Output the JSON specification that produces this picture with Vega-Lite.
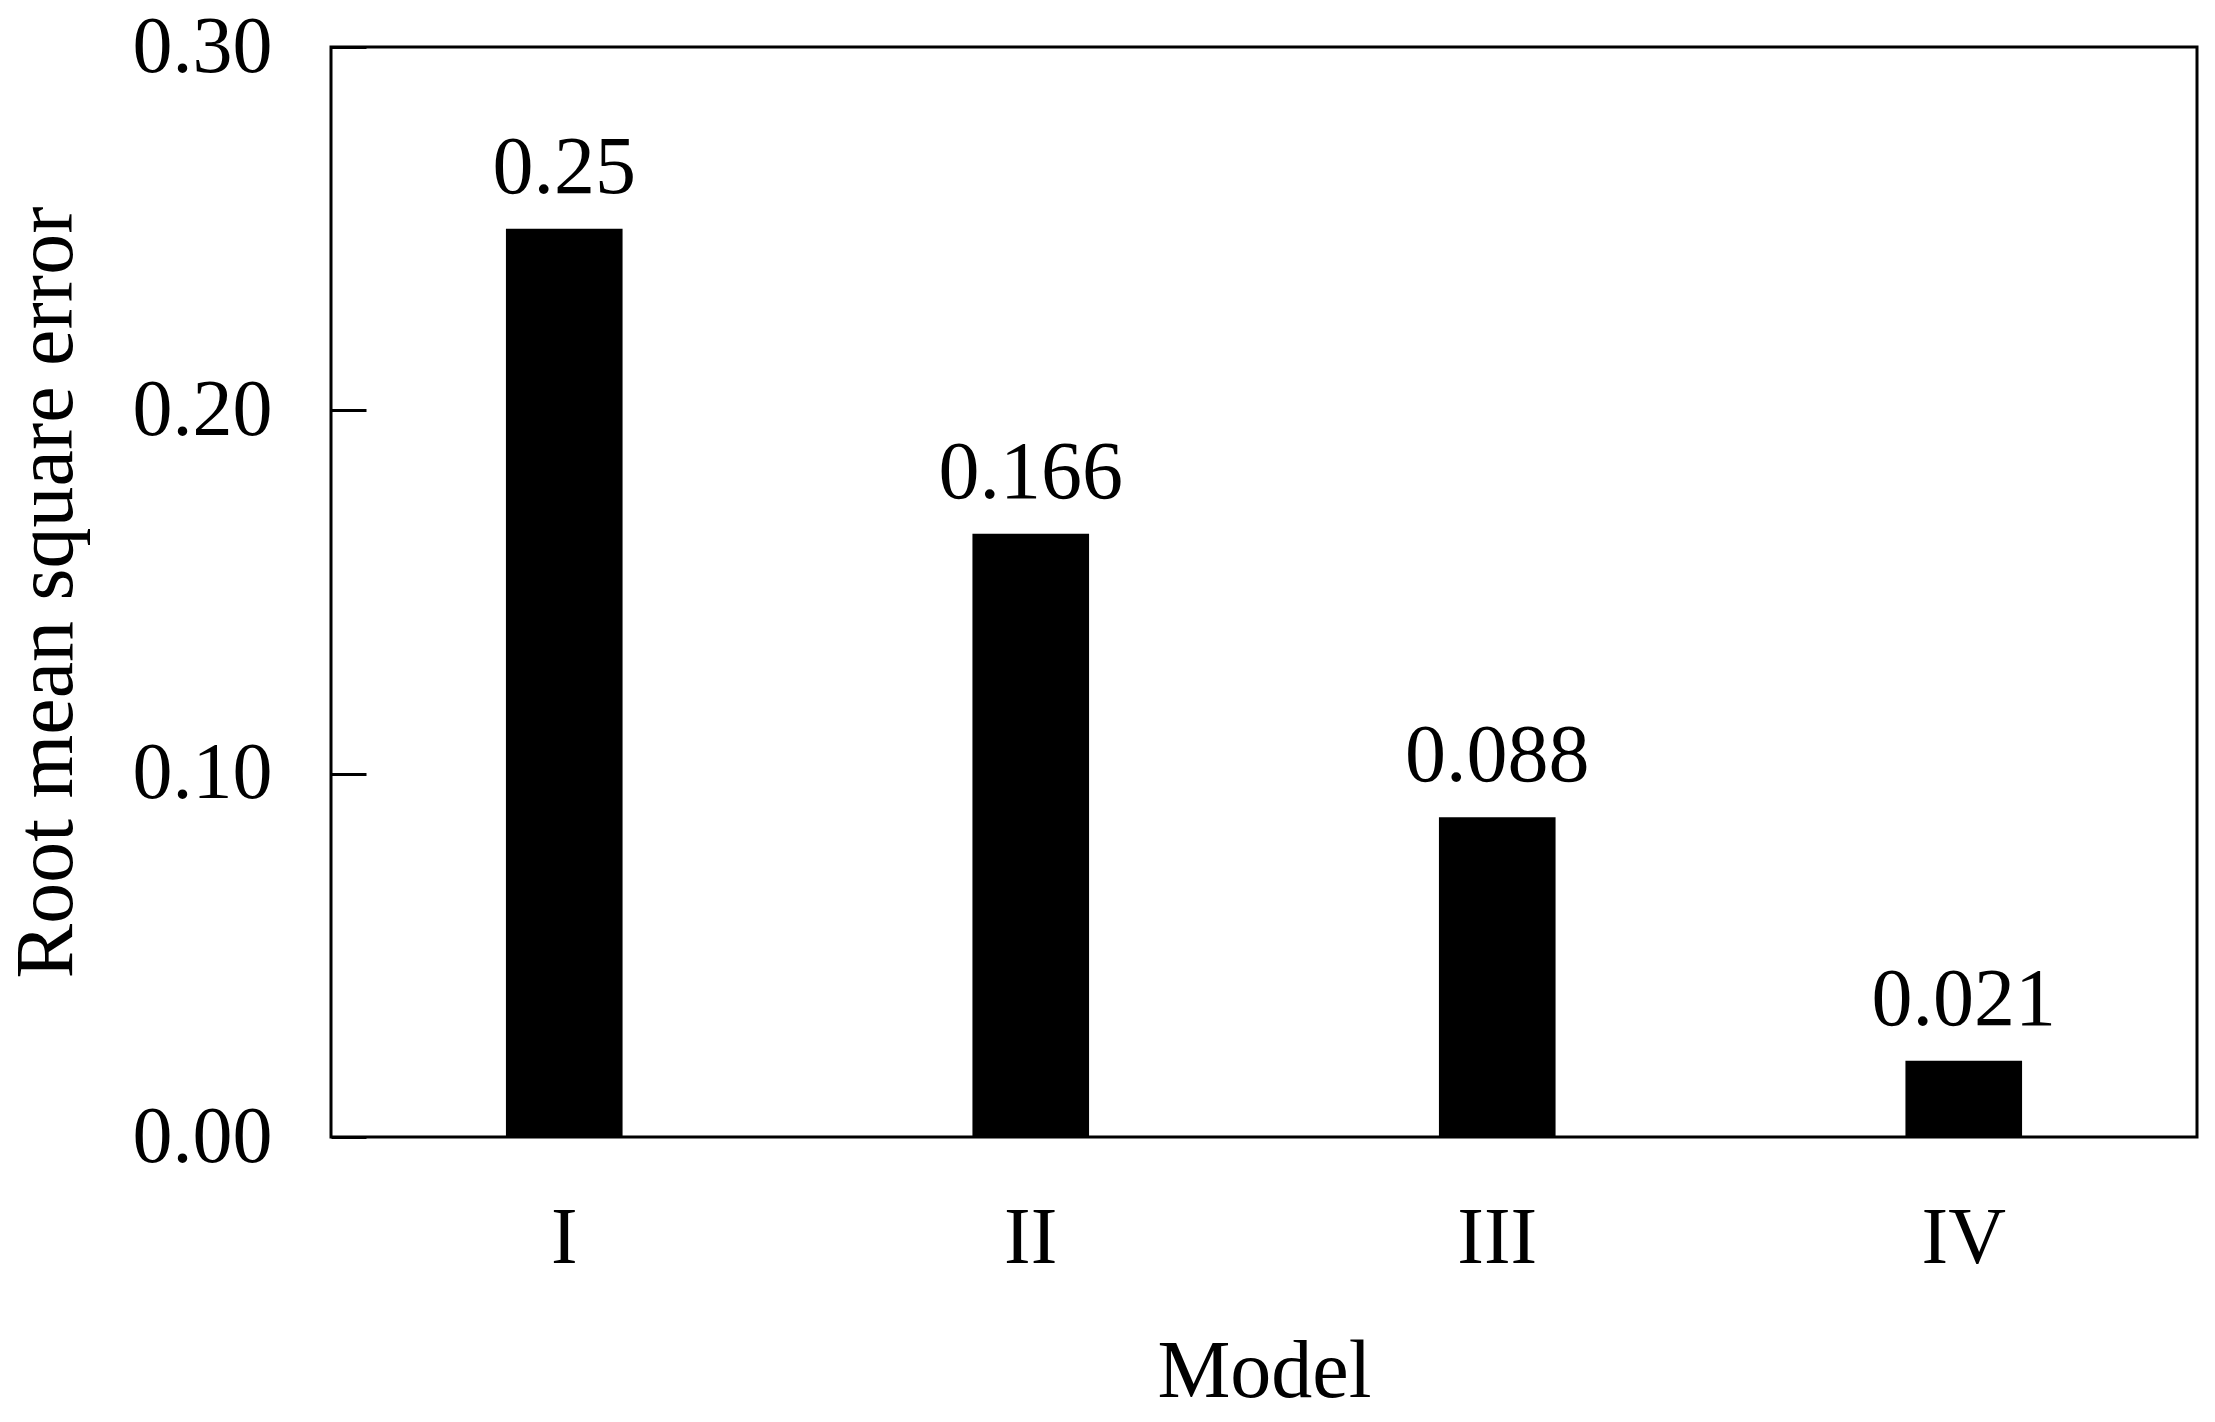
{
  "$schema": "https://vega.github.io/schema/vega-lite/v6.json",
  "width": 1866,
  "height": 1090,
  "autosize": {"type": "none"},
  "padding": {"left": 331, "top": 47, "right": 18, "bottom": 285},
  "background": "white",
  "config": {
    "font": "Liberation Serif",
    "view": {"stroke": "black", "strokeWidth": 3},
    "axis": {"labelFont": "Liberation Serif", "titleFont": "Liberation Serif", "labelColor": "black", "titleColor": "black", "titleFontWeight": "normal", "grid": false, "domain": false}
  },
  "data": {
    "values": [
      {"model": "I", "rmse": 0.25, "label": "0.25"},
      {"model": "II", "rmse": 0.166, "label": "0.166"},
      {"model": "III", "rmse": 0.088, "label": "0.088"},
      {"model": "IV", "rmse": 0.021, "label": "0.021"}
    ]
  },
  "encoding": {
    "x": {
      "field": "model", "type": "nominal", "sort": ["I", "II", "III", "IV"],
      "scale": {"paddingInner": 0.75, "paddingOuter": 0.375},
      "axis": {"title": "Model", "labelAngle": 0, "ticks": false, "labelPadding": 62, "labelFontSize": 80, "titleFontSize": 82, "titlePadding": 53, "labelBaseline": "top"}
    },
    "y": {
      "field": "rmse", "type": "quantitative",
      "scale": {"domain": [0, 0.3], "nice": false},
      "axis": {"title": "Root mean square error", "values": [0, 0.1, 0.2, 0.3], "format": ".2f", "tickSize": -35, "tickColor": "black", "tickWidth": 3, "labelPadding": 94, "labelFontSize": 80, "titleFontSize": 82, "titlePadding": 44}
    }
  },
  "layer": [
    {"mark": {"type": "bar", "color": "black"}},
    {"mark": {"type": "text", "fontSize": 82, "baseline": "alphabetic", "dy": -36, "color": "black", "font": "Liberation Serif"},
     "encoding": {"text": {"field": "label"}}}
  ]
}
